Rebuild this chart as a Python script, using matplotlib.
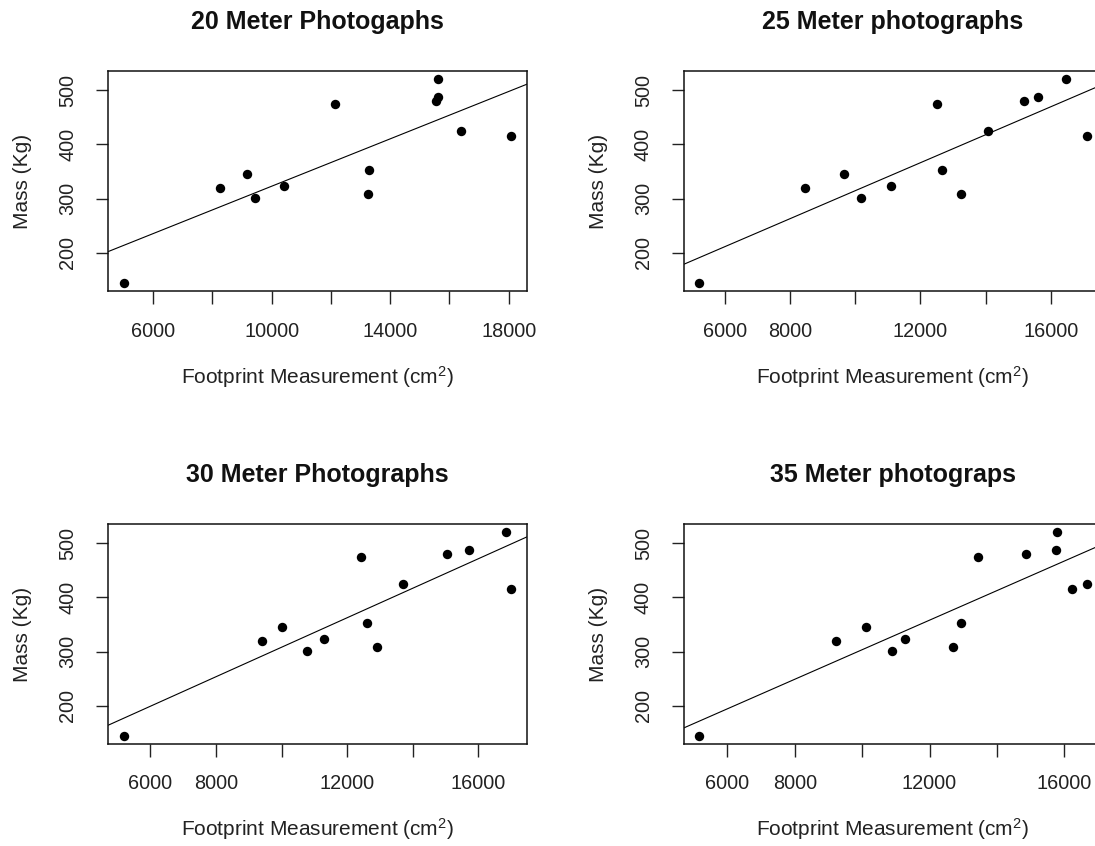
import numpy as np
import matplotlib
matplotlib.use("Agg")
import matplotlib.pyplot as plt

plt.rcParams['font.family'] = ['Liberation Sans', 'DejaVu Sans']
plt.rcParams['mathtext.fontset'] = 'custom'
plt.rcParams['mathtext.rm'] = 'Liberation Sans'
plt.rcParams['mathtext.it'] = 'Liberation Sans:italic'

# mass of each animal (kg), same order in every panel
mass = [145, 319, 346, 302, 324, 475, 309, 353, 480, 488, 520, 424, 415]

# footprint area (cm^2) measured from photographs at each height
foot_20 = [5000, 8267, 9169, 9442, 10427, 12125, 13252, 13288, 15531, 15614, 15620, 16398, 18083]
foot_25 = [5214, 8465, 9660, 10177, 11113, 12512, 13234, 12663, 15182, 15591, 16452, 14084, 17098]
foot_30 = [5186, 9394, 10004, 10764, 11300, 12424, 12916, 12595, 15047, 15700, 16835, 13698, 16996]
foot_35 = [5155, 9222, 10119, 10880, 11266, 13445, 12684, 12934, 14863, 15760, 15792, 16668, 16230]

titles = ["20 Meter Photogaphs", "25 Meter photographs",
          "30 Meter Photographs", "35 Meter photograps"]

xticks_20 = [6000, 8000, 10000, 12000, 14000, 16000, 18000]
xlabels_20 = ["6000", "", "10000", "", "14000", "", "18000"]
xticks_other = [6000, 8000, 10000, 12000, 14000, 16000]
xlabels_other = ["6000", "8000", "", "12000", "", "16000"]
yticks = [200, 300, 400, 500]

W, H = 1095, 846
fig = plt.figure(figsize=(W / 100, H / 100), dpi=100)

# axes boxes in pixels: left, top, width, height (right column runs off the page)
boxes = [(108, 71, 418.7, 220), (683.5, 71, 418.7, 220),
         (108, 524.3, 418.7, 219.4), (683.5, 524.3, 418.7, 219.4)]
feet = [foot_20, foot_25, foot_30, foot_35]
ink = '#111111'

for i in range(4):
    l, t, w, h = boxes[i]
    ax = fig.add_axes([l / W, (H - t - h) / H, w / W, h / H])
    x = np.array(feet[i], dtype=float)
    y = np.array(mass, dtype=float)

    ax.scatter(x, y, s=46, color='black', zorder=3, linewidths=0)
    slope, icpt = np.polyfit(x, y, 1)
    ax.axline((0, icpt), slope=slope, color='black', lw=0.8)

    # R style 4% padding around the data
    xr = x.max() - x.min()
    yr = y.max() - y.min()
    ax.set_xlim(x.min() - 0.04 * xr, x.max() + 0.04 * xr)
    ax.set_ylim(y.min() - 0.04 * yr, y.max() + 0.04 * yr)

    if i == 0:
        ax.set_xticks(xticks_20)
        ax.set_xticklabels(xlabels_20)
    else:
        ax.set_xticks(xticks_other)
        ax.set_xticklabels(xlabels_other)
    ax.set_yticks(yticks)
    ax.set_yticklabels([str(v) for v in yticks], rotation=90, va='center')

    ax.tick_params(direction='out', length=9, width=1, pad=13,
                   labelsize=14.3, colors='#222222')
    for sp in ax.spines.values():
        sp.set_linewidth(1.1)
        sp.set_color(ink)

    ax.text(0.5, 1.224, titles[i], transform=ax.transAxes, ha='center',
            va='center', fontsize=18, fontweight='bold', color=ink)
    ax.text(0.5, -0.39, r'Footprint Measurement (cm$^2$)', transform=ax.transAxes,
            ha='center', va='center', fontsize=15, color='#222222')
    ax.text(-0.2035, 0.5, 'Mass (Kg)', transform=ax.transAxes, rotation=90,
            ha='center', va='center', fontsize=15, color='#222222')

fig.savefig('out.png', dpi=100)
